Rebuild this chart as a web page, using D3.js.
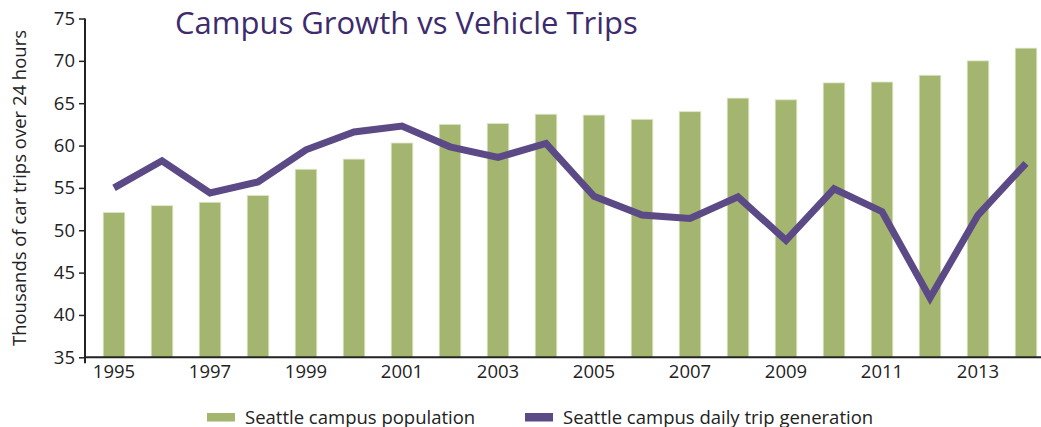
<!DOCTYPE html>
<html>
<head>
<meta charset="utf-8">
<script src="https://cdn.jsdelivr.net/npm/d3@7"></script>
<style>
  body { margin: 0; background: #fff; }
  svg { font-family: "Open Sans", sans-serif; }
</style>
</head>
<body>
<div id="chart"></div>
<script>
// data
const years = [1995, 1996, 1997, 1998, 1999, 2000, 2001, 2002, 2003, 2004,
               2005, 2006, 2007, 2008, 2009, 2010, 2011, 2012, 2013, 2014]
const population = [52.1, 52.9, 53.3, 54.1, 57.2, 58.4, 60.3, 62.5, 62.6, 63.7,
                    63.6, 63.1, 64.0, 65.6, 65.4, 67.4, 67.5, 68.3, 70.0, 71.5]
const trips = [55.0, 58.2, 54.4, 55.7, 59.5, 61.6, 62.3, 59.85, 58.6, 60.25,
               54.0, 51.8, 51.4, 53.95, 48.8, 54.9, 52.2, 42.0, 51.8, 57.9]
const yTicks = [35, 40, 45, 50, 55, 60, 65, 70, 75]
const xTickYears = [1995, 1997, 1999, 2001, 2003, 2005, 2007, 2009, 2011, 2013]

const width = 1041, height = 427
const margin = { left: 85, right: 0, top: 18.5, bottom: 70 }
const green = '#a3b56f', purple = '#5b4a86'
const fontSize = 18.5

const svg = d3.select('#chart').append('svg')
    .attr('width', width)
    .attr('height', height)

const x = d3.scaleBand()
    .domain(years)
    .range([90, 1050])
    .paddingInner(0.55)
    .paddingOuter(0.275)

const y = d3.scaleLinear()
    .domain([35, 75])
    .range([357.3, margin.top])

// bars
svg.append('g')
    .selectAll('rect')
    .data(years)
    .join('rect')
    .attr('x', d => x(d))
    .attr('y', (d, i) => y(population[i]))
    .attr('width', x.bandwidth())
    .attr('height', (d, i) => y(35) - y(population[i]))
    .attr('fill', green)
    .attr('stroke', '#dfe6cc')
    .attr('stroke-width', 0.8)

// line
const line = d3.line()
    .x((d, i) => x(years[i]) + x.bandwidth() / 2)
    .y(d => y(d))

svg.append('path')
    .datum(trips)
    .attr('d', line)
    .attr('fill', 'none')
    .attr('stroke', purple)
    .attr('stroke-width', 7)
    .attr('stroke-linejoin', 'miter')

// y axis
const yAxis = svg.append('g')
    .attr('transform', 'translate(' + margin.left + ',0)')
    .call(d3.axisLeft(y).tickValues(yTicks).tickSize(6).tickPadding(4))
yAxis.select('.domain').remove()
yAxis.append('line')
    .attr('x1', 0).attr('x2', 0)
    .attr('y1', y(75)).attr('y2', y(35) + 6)
    .attr('stroke', '#222').attr('stroke-width', 2)
yAxis.selectAll('.tick line').attr('stroke', '#222').attr('stroke-width', 1.5)
yAxis.selectAll('.tick text')
    .attr('fill', '#222')
    .attr('font-size', fontSize)
    .attr('font-family', '"Open Sans", sans-serif')

// x axis
const xAxis = svg.append('g')
    .attr('transform', 'translate(0,' + y(35) + ')')
    .call(d3.axisBottom(x).tickValues(xTickYears).tickSize(0).tickPadding(8))
xAxis.select('.domain').remove()
xAxis.append('line')
    .attr('x1', margin.left).attr('x2', width)
    .attr('y1', 0).attr('y2', 0)
    .attr('stroke', '#222').attr('stroke-width', 2)
xAxis.selectAll('.tick text')
    .attr('fill', '#222')
    .attr('font-size', fontSize)
    .attr('font-family', '"Open Sans", sans-serif')

// axis title
svg.append('text')
    .attr('transform', 'translate(26,188) rotate(-90)')
    .attr('text-anchor', 'middle')
    .attr('font-size', fontSize)
    .attr('fill', '#222')
    .text('Thousands of car trips over 24 hours')

// chart title
svg.append('text')
    .attr('x', 175)
    .attr('y', 34)
    .attr('font-size', 31)
    .attr('fill', '#3d2b6e')
    .text('Campus Growth vs Vehicle Trips')

// legend
const legend = [
    { label: 'Seattle campus population', color: green, x: 207 },
    { label: 'Seattle campus daily trip generation', color: purple, x: 525 }
]
const lg = svg.append('g').selectAll('g')
    .data(legend)
    .join('g')
    .attr('transform', d => 'translate(' + d.x + ',413)')
lg.append('rect')
    .attr('width', 28)
    .attr('height', 8.5)
    .attr('fill', d => d.color)
lg.append('text')
    .attr('x', 38)
    .attr('y', 10.5)
    .attr('font-size', fontSize)
    .attr('fill', '#222')
    .text(d => d.label)
</script>
</body>
</html>
